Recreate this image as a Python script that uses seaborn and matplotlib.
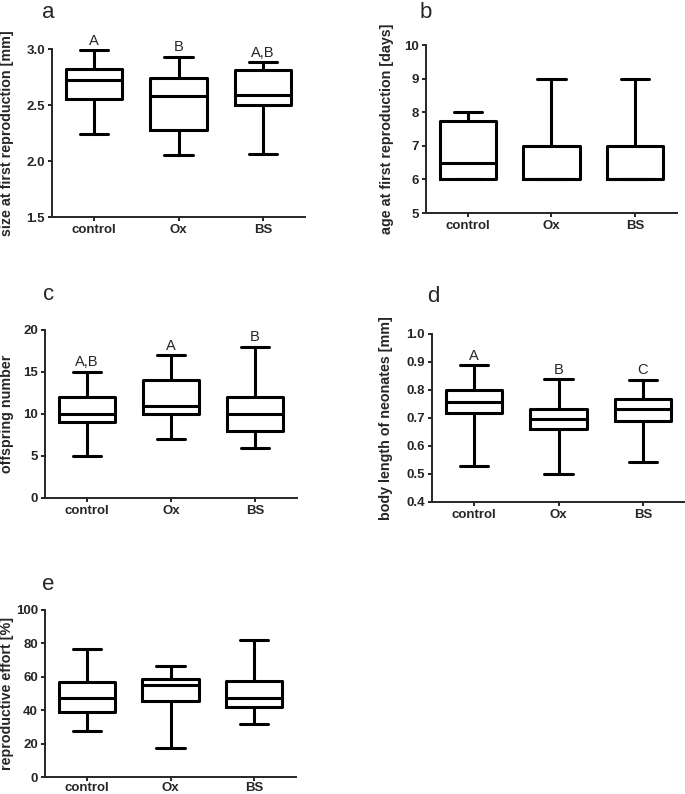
import pandas as pd
import numpy as np
import seaborn as sns
import matplotlib.pyplot as plt

groups = ['control', 'Ox', 'BS']

# five-number summaries: min, q1, median, q3, max
size_first = {'control': [2.24, 2.557, 2.72, 2.82, 2.99],
              'Ox': [2.05, 2.277, 2.58, 2.74, 2.93],
              'BS': [2.06, 2.50, 2.59, 2.81, 2.88]}
age_first = {'control': [6, 6, 6.5, 7.75, 8],
             'Ox': [6, 6, 6, 7, 9],
             'BS': [6, 6, 6, 7, 9]}
offspring = {'control': [5, 9, 10, 12, 15],
             'Ox': [7, 10, 11, 14, 17],
             'BS': [6, 8, 10, 12, 18]}
neonates = {'control': [0.530, 0.719, 0.758, 0.800, 0.888],
            'Ox': [0.499, 0.661, 0.696, 0.731, 0.838],
            'BS': [0.542, 0.690, 0.732, 0.769, 0.836]}
effort = {'control': [27.3, 38.8, 47.6, 56.6, 76.7],
          'Ox': [17.3, 45.6, 54.8, 58.4, 66.7],
          'BS': [31.7, 42.2, 47.6, 57.2, 81.9]}

letters_a = ['A', 'B', 'A,B']
letters_c = ['A,B', 'A', 'B']
letters_d = ['A', 'B', 'C']

W, H = 685, 794
sns.set_style('ticks')
plt.rcParams['font.family'] = ['Liberation Sans', 'DejaVu Sans']
plt.rcParams['axes.linewidth'] = 1.4

fig = plt.figure(figsize=(W / 100, H / 100), dpi=100)

def px_axes(left, right, top, bottom):
    return fig.add_axes([left / W, 1 - bottom / H, (right - left) / W, (bottom - top) / H])

panels = [
    # data, ylabel, ylim, yticks, fmt, letters, box px (l, r, t, b), panel letter px (x, y), ylabel offset px
    (size_first, 'size at first reproduction [mm]', (1.5, 3.0), [1.5, 2.0, 2.5, 3.0], '{:.1f}', letters_a,
     (52, 305, 49, 217), ('a', 42, 18), 38),
    (age_first, 'age at first reproduction [days]', (5, 10), [5, 6, 7, 8, 9, 10], '{:d}', None,
     (426, 677, 45, 213), ('b', 420, 18), 32),
    (offspring, 'offspring number', (0, 20), [0, 5, 10, 15, 20], '{:d}', letters_c,
     (45, 297, 330, 498), ('c', 43, 300), 31),
    (neonates, 'body length of neonates [mm]', (0.4, 1.0), [0.4, 0.5, 0.6, 0.7, 0.8, 0.9, 1.0], '{:.1f}', letters_d,
     (432, 685, 334, 502), ('d', 427, 302), 39),
    (effort, 'reproductive effort [%]', (0, 100), [0, 20, 40, 60, 80, 100], '{:d}', None,
     (45, 296, 610, 777), ('e', 42, 590), 31),
]

for data, ylab, ylim, yticks, fmt, lets, box, plabel, yoff in panels:
    ax = px_axes(*box)
    df = pd.DataFrame([(g, v) for g in groups for v in data[g]], columns=['group', 'value'])
    sns.boxplot(data=df, x='group', y='value', order=groups, ax=ax, whis=(0, 100),
                fill=False, color='black', linecolor='black', linewidth=2.2, width=0.67,
                showfliers=False)
    ax.set_xlim(-0.5, 2.5)
    ax.set_ylim(*ylim)
    ax.set_yticks(yticks)
    ax.set_yticklabels([fmt.format(t) for t in yticks])
    sns.despine(ax=ax)
    ax.tick_params(axis='both', direction='out', length=3, width=1.4, pad=2, labelsize=9.5)
    if box[3] > 700:
        ax.tick_params(axis='x', pad=0.5)
    for t in ax.get_xticklabels() + ax.get_yticklabels():
        t.set_fontweight('bold')
    ax.set_xlabel('')
    ax.set_ylabel(ylab, fontsize=10.25, fontweight='bold')
    ax.yaxis.set_label_coords(-yoff / (box[1] - box[0]), 0.5)
    if lets is not None:
        for i, g in enumerate(groups):
            ax.annotate(lets[i], xy=(i, max(data[g])), xytext=(0, 4), textcoords='offset points',
                        ha='center', va='baseline', fontsize=10.5, annotation_clip=False)
    fig.text(plabel[1] / W, 1 - plabel[2] / H, plabel[0], fontsize=16, ha='left', va='baseline')

fig.savefig('out.png', dpi=100)
